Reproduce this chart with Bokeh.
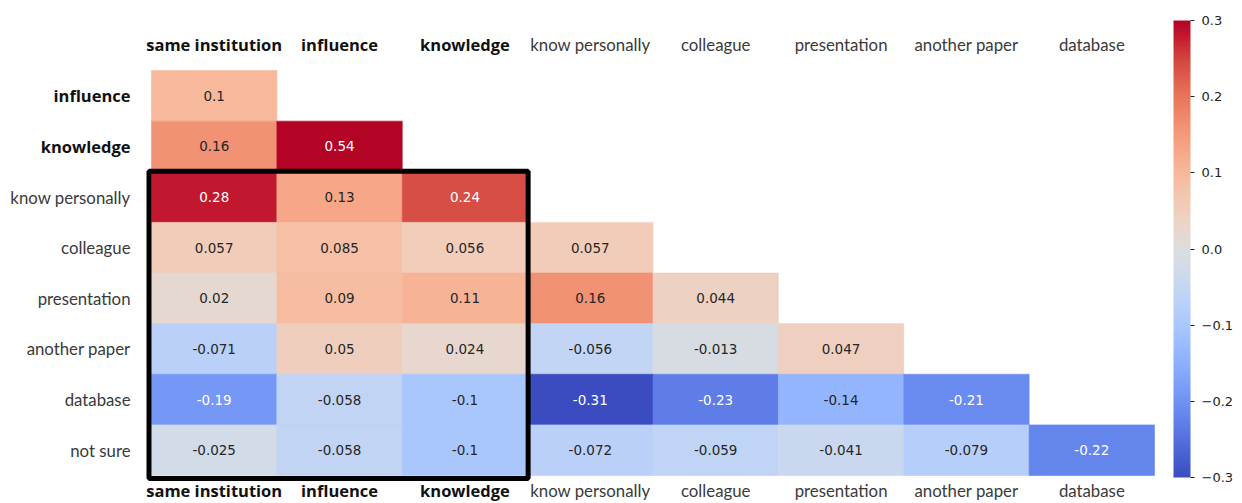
from bokeh.plotting import figure
from bokeh.models import (Range1d, ColumnDataSource, LinearColorMapper, ColorBar,
                          FixedTicker, CustomJSTickFormatter)
from bokeh.transform import transform
from bokeh.core.properties import value
from bokeh.embed import file_html
from bokeh.resources import INLINE

# ---------------- data ----------------
columns = ["same institution", "influence", "knowledge", "know personally",
           "colleague", "presentation", "another paper", "database"]
rows = ["influence", "knowledge", "know personally", "colleague",
        "presentation", "another paper", "database", "not sure"]
bold_columns = ["same institution", "influence", "knowledge"]
bold_rows = ["influence", "knowledge"]

r_influence = [0.1]
r_knowledge = [0.16, 0.54]
r_know_personally = [0.28, 0.13, 0.24]
r_colleague = [0.057, 0.085, 0.056, 0.057]
r_presentation = [0.02, 0.09, 0.11, 0.16, 0.044]
r_another_paper = [-0.071, 0.05, 0.024, -0.056, -0.013, 0.047]
r_database = [-0.19, -0.058, -0.1, -0.31, -0.23, -0.14, -0.21]
r_not_sure = [-0.025, -0.058, -0.1, -0.072, -0.059, -0.041, -0.079, -0.22]
row_values = [r_influence, r_knowledge, r_know_personally, r_colleague,
              r_presentation, r_another_paper, r_database, r_not_sure]
value_labels = [["0.1"], ["0.16", "0.54"], ["0.28", "0.13", "0.24"],
                ["0.057", "0.085", "0.056", "0.057"],
                ["0.02", "0.09", "0.11", "0.16", "0.044"],
                ["-0.071", "0.05", "0.024", "-0.056", "-0.013", "0.047"],
                ["-0.19", "-0.058", "-0.1", "-0.31", "-0.23", "-0.14", "-0.21"],
                ["-0.025", "-0.058", "-0.1", "-0.072", "-0.059", "-0.041", "-0.079", "-0.22"]]
highlight_rows = ["know personally", "not sure"]
highlight_cols = ["same institution", "knowledge"]
vmin, vmax = -0.3, 0.3
cbar_ticks = [-0.3, -0.2, -0.1, 0.0, 0.1, 0.2, 0.3]

# ---------------- coolwarm palette ----------------
_cw = [
    (0.2298057, 0.298717966, 0.753683153), (0.26623388, 0.353094838, 0.801466763),
    (0.30386891, 0.406535296, 0.84495867), (0.342804478, 0.458757618, 0.883725899),
    (0.38301334, 0.50941904, 0.917387822), (0.424369608, 0.558148092, 0.945619588),
    (0.46666708, 0.604562568, 0.968154911), (0.509635204, 0.648280772, 0.98478814),
    (0.552953156, 0.688929332, 0.995375608), (0.596262162, 0.726149107, 0.999836203),
    (0.639176211, 0.759599947, 0.998151185), (0.681291281, 0.788964712, 0.990363227),
    (0.722193294, 0.813952739, 0.976574709), (0.761464949, 0.834302879, 0.956945269),
    (0.798691636, 0.849786142, 0.931688648), (0.833466556, 0.860207984, 0.901068838),
    (0.865395197, 0.86541021, 0.865395561), (0.897787179, 0.848937047, 0.820880546),
    (0.924127593, 0.827384882, 0.774508472), (0.944468518, 0.800927443, 0.726736146),
    (0.958852946, 0.769767752, 0.678007945), (0.96732803, 0.734132809, 0.628751763),
    (0.969954137, 0.694266682, 0.579375448), (0.966811177, 0.650421156, 0.530263762),
    (0.958003065, 0.602842431, 0.481775914), (0.944469281, 0.551750968, 0.434243684),
    (0.925716156, 0.496769599, 0.387970225), (0.901850396, 0.436914829, 0.343231185),
    (0.873239024, 0.370607377, 0.300229633), (0.840254431, 0.295254856, 0.259150045),
    (0.802634409, 0.202988387, 0.22019003), (0.760429961, 0.092262796, 0.183610434),
    (0.705673158, 0.01555616, 0.150232812)]

N = 256
palette_rgb = []
for i in range(N):
    t = i / (N - 1) * (len(_cw) - 1)
    k = min(int(t), len(_cw) - 2)
    f = t - k
    c = tuple(_cw[k][j] * (1 - f) + _cw[k + 1][j] * f for j in range(3))
    palette_rgb.append(c)
palette = ["#%02x%02x%02x" % tuple(int(round(v * 255)) for v in c) for c in palette_rgb]


def lum(c):
    lin = [v / 12.92 if v <= 0.03928 else ((v + 0.055) / 1.055) ** 2.4 for v in c]
    return 0.2126 * lin[0] + 0.7152 * lin[1] + 0.0722 * lin[2]


def pal_index(v):
    idx = int((v - vmin) / (vmax - vmin) * N)
    return max(0, min(N - 1, idx))


xs, ys, vals, labs, tcols = [], [], [], [], []
for ri, (rname, rv) in enumerate(zip(rows, row_values)):
    for ci, v in enumerate(rv):
        xs.append(ci + 0.5)
        ys.append(ri + 0.5)
        vals.append(v)
        labs.append(value_labels[ri][ci])
        tcols.append("white" if lum(palette_rgb[pal_index(v)]) < 0.36 else "#262626")
src = ColumnDataSource(dict(x=xs, y=ys, v=vals, lab=labs, tc=tcols))

# ---------------- figure geometry ----------------
W, H = 1240, 501
gx0, gx1 = 151, 1154     # grid pixel extents
gy0, gy1 = 70, 475
ncol, nrow = len(columns), len(rows)
pxx = (gx1 - gx0) / ncol
pxy = (gy1 - gy0) / nrow
x_start = -gx0 / pxx
x_end = x_start + W / pxx
y_top = -gy0 / pxy
y_bottom = y_top + H / pxy

p = figure(width=W, height=H, output_backend="svg", toolbar_location=None,
           x_range=Range1d(x_start, x_end), y_range=Range1d(y_bottom, y_top),
           min_border=0, min_border_left=0, min_border_right=0,
           min_border_top=0, min_border_bottom=0)
p.axis.visible = False
p.grid.visible = False
p.outline_line_color = None
p.background_fill_color = "white"

mapper = LinearColorMapper(palette=palette, low=vmin, high=vmax)
p.rect(x="x", y="y", width=1, height=1, source=src,
       fill_color=transform("v", mapper), line_color=transform("v", mapper),
       line_width=0.6)
p.text(x="x", y="y", text="lab", source=src, text_color="tc",
       text_font=value("DejaVu Sans"), text_font_size="13.5px",
       text_align="center", text_baseline="middle")

# labels
styles = {
    "bold": dict(text_font=value("Open Sans"), text_font_size="16.5px",
                 text_font_style="bold", text_color="#111111"),
    "normal": dict(text_font=value("Lato"), text_font_size="16.8px",
                   text_font_style="normal", text_color="#3a3a3a"),
}
col_x = [i + 0.5 for i in range(ncol)]
for style, names in (("bold", bold_columns), ("normal", [c for c in columns if c not in bold_columns])):
    cx = [col_x[columns.index(n)] for n in names]
    p.text(x=cx, y=[y_top + 44 / pxy] * len(names), text=names,
           text_align="center", text_baseline="middle", **styles[style])
    p.text(x=cx, y=[y_top + 490 / pxy] * len(names), text=names,
           text_align="center", text_baseline="middle", **styles[style])
for style, names in (("bold", bold_rows), ("normal", [r for r in rows if r not in bold_rows])):
    ry = [rows.index(n) + 0.5 for n in names]
    p.text(x=[x_start + 130 / pxx] * len(names), y=ry, text=names,
           text_align="right", text_baseline="middle", **styles[style])

# highlight box
hx0 = columns.index(highlight_cols[0])
hx1 = columns.index(highlight_cols[1]) + 1
hy0 = rows.index(highlight_rows[0])
hy1 = rows.index(highlight_rows[1]) + 1
p.quad(left=[hx0 - 2.5 / pxx], right=[hx1 + 0.5 / pxx], top=[hy0 - 0.5 / pxy],
       bottom=[hy1 + 3 / pxy], fill_alpha=0, line_color="black", line_width=5)

# colorbar
cb = ColorBar(color_mapper=mapper, location=(1173, H - 477), width=17, height=457,
              padding=0, margin=0, ticker=FixedTicker(ticks=cbar_ticks),
              formatter=CustomJSTickFormatter(code="return tick.toFixed(1).replace('-', '\u2212');"),
              major_label_text_font="DejaVu Sans", major_label_text_font_size="13px",
              major_label_text_color="#222222",
              major_tick_in=0, major_tick_out=4, major_tick_line_color="#222222",
              label_standoff=7, bar_line_color=None, border_line_color=None,
              background_fill_alpha=0)
p.add_layout(cb, "center")

open("out.html", "w").write(file_html(p, INLINE))
